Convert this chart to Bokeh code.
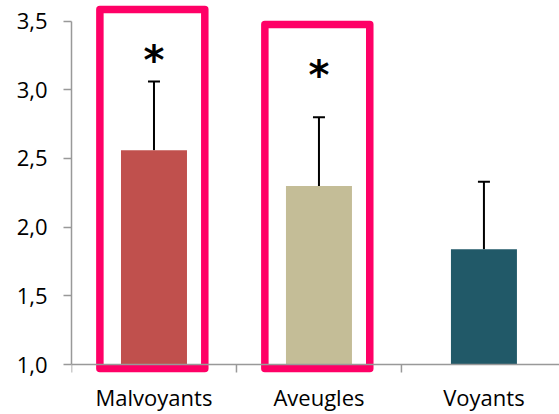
from bokeh.plotting import figure
from bokeh.models import FixedTicker, Span, Whisker, TeeHead, ColumnDataSource
from bokeh.core.properties import value
from bokeh.embed import file_html
from bokeh.resources import INLINE

# ---- data ----
categories = ["Malvoyants", "Aveugles", "Voyants"]
means = [2.56, 2.30, 1.84]
errors = [0.50, 0.50, 0.49]
colors = ["#C0504D", "#C4BD97", "#215968"]
y_ticks = [1.0, 1.5, 2.0, 2.5, 3.0, 3.5]
y_tick_labels = ["1,0", "1,5", "2,0", "2,5", "3,0", "3,5"]
# highlighted (significant) groups
sig_idx = [0, 1]
sig_star_y = [3.215, 3.105]
sig_box_top = [3.585, 3.476]
sig_box_bottom = [0.971, 0.971]

xs = list(range(len(categories)))
base = 1.0

p = figure(width=559, height=414, output_backend="svg", toolbar_location=None,
           x_range=(-0.5, 2.458), y_range=(0.9348, 3.650),
           min_border_left=71, min_border_right=0, min_border_top=0,
           min_border_bottom=39)
p.outline_line_color = None
p.xgrid.visible = False
p.ygrid.visible = False
p.background_fill_color = "white"

axis_gray = "#999999"

# y axis
p.yaxis.ticker = FixedTicker(ticks=y_ticks)
p.yaxis.major_label_overrides = {t: l for t, l in zip(y_ticks, y_tick_labels)}
p.yaxis.bounds = (y_ticks[0], y_ticks[-1])
p.yaxis.axis_line_color = axis_gray
p.yaxis.axis_line_width = 1.5
p.yaxis.major_tick_line_color = axis_gray
p.yaxis.major_tick_line_width = 1.5
p.yaxis.major_tick_out = 8
p.yaxis.major_tick_in = 0
p.yaxis.minor_tick_line_color = None
p.yaxis.major_label_standoff = 16
p.yaxis.major_label_text_font = "Open Sans"
p.yaxis.major_label_text_font_size = "22px"
p.yaxis.major_label_text_color = "#000000"

# x axis (labels only)
p.xaxis.ticker = FixedTicker(ticks=xs)
p.xaxis.major_label_overrides = {i: c for i, c in zip(xs, categories)}
p.xaxis.axis_line_color = None
p.xaxis.major_tick_line_color = None
p.xaxis.minor_tick_line_color = None
p.xaxis.major_tick_out = 0
p.xaxis.major_tick_in = 0
p.xaxis.major_label_standoff = 8
p.xaxis.major_label_text_font = "Open Sans"
p.xaxis.major_label_text_font_size = "22px"
p.xaxis.major_label_text_color = "#000000"

# baseline at 1.0 and category boundary ticks
p.add_layout(Span(location=base, dimension="width", line_color=axis_gray, line_width=1.5))
bx = [i - 0.5 for i in xs] + [xs[-1] + 0.5]
p.segment(x0=bx, y0=[base] * len(bx), x1=bx, y1=[base - 0.058] * len(bx),
          line_color=axis_gray, line_width=1.5)

# bars
src = ColumnDataSource(dict(x=xs, top=means, color=colors,
                            upper=[m + e for m, e in zip(means, errors)]))
p.vbar(x="x", top="top", bottom=base, width=0.40, fill_color="color",
       line_color=None, source=src)

# error bars (upper only)
p.add_layout(Whisker(base="x", lower="top", upper="upper", source=src,
                     line_color="black", line_width=2,
                     upper_head=TeeHead(size=12, line_color="black", line_width=2),
                     lower_head=None))

# significance boxes
bxs = [xs[i] - 0.01 for i in sig_idx]
p.quad(left=[x - 0.318 for x in bxs], right=[x + 0.318 for x in bxs],
       top=sig_box_top, bottom=sig_box_bottom, fill_color=None,
       line_color="#FF0066", line_width=7.5, line_join="round")

# asterisks
p.text(x=[xs[i] for i in sig_idx], y=sig_star_y, text=["*"] * len(sig_idx),
       text_font=value("DejaVu Sans"), text_font_style="bold",
       text_font_size="40px", text_align="center", text_baseline="middle",
       text_color="black")

open("out.html", "w").write(file_html(p, INLINE))
